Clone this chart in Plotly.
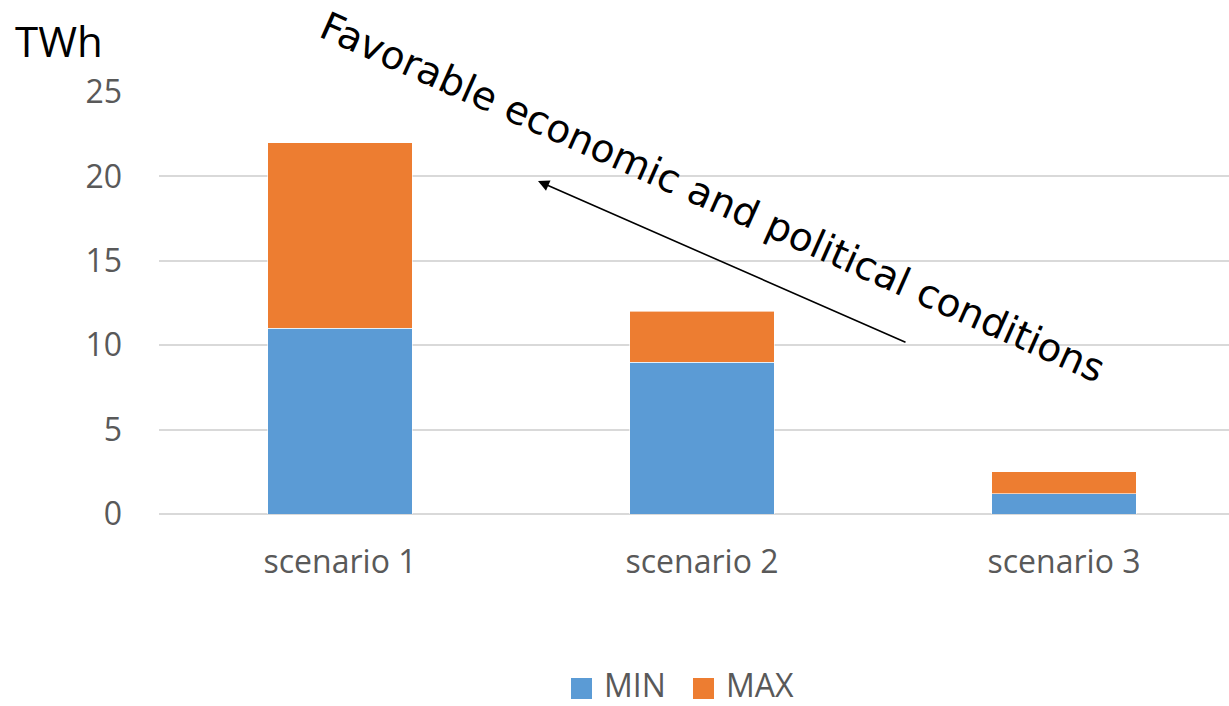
import plotly.graph_objects as go

# Chart data
scenarios = ["scenario 1", "scenario 2", "scenario 3"]
min_twh = [11, 9, 1.2]
max_extra_twh = [11, 3, 1.3]
series_names = ["MIN", "MAX"]
series_colors = ["#5B9BD5", "#ED7D31"]
y_ticks = [0, 5, 10, 15, 20, 25]

W, H = 1229, 706
L, R, T, B = 159, 0, 92, 192
plot_w = W - L - R
plot_h = H - T - B


def px(x):
    return (x - L) / plot_w


def py(y):
    return (H - B - y) / plot_h


fig = go.Figure()
for name, vals, color in zip(series_names, [min_twh, max_extra_twh], series_colors):
    fig.add_trace(go.Bar(
        x=scenarios, y=vals, name=name, width=0.4,
        marker=dict(color=color, line=dict(color="rgba(255,255,255,0.6)", width=1)),
        showlegend=False,
    ))

fig.update_layout(
    barmode="stack",
    width=W, height=H,
    margin=dict(l=L, r=R, t=T, b=B),
    paper_bgcolor="white", plot_bgcolor="white",
    font=dict(family="Open Sans", color="#595959", size=32),
    xaxis=dict(
        range=[-0.5, -0.5 + plot_w / 362.0],
        showgrid=False, showline=False, zeroline=False,
        ticks="", ticklabelstandoff=26,
        tickfont=dict(size=32, color="#595959"),
    ),
    yaxis=dict(
        range=[0, 25], tickvals=y_ticks,
        showgrid=True, gridcolor="#D9D9D9", gridwidth=1.5,
        zeroline=True, zerolinecolor="#D9D9D9", zerolinewidth=1.5,
        showline=False, ticks="", ticklabelstandoff=36,
        tickfont=dict(size=32, color="#595959"),
    ),
)

# Unit label
fig.add_annotation(text="TWh", xref="paper", yref="paper", x=px(59), y=py(41),
                   xanchor="center", yanchor="middle", showarrow=False,
                   font=dict(family="Open Sans", size=42, color="black"))

# Trend arrow and its caption
fig.add_annotation(text="", xref="paper", yref="paper", x=px(538), y=py(181),
                   ax=907 - 538, ay=343 - 181, showarrow=True,
                   arrowhead=2, arrowsize=1.4, arrowwidth=1.6, arrowcolor="black")
fig.add_annotation(text="Favorable economic and political conditions",
                   xref="paper", yref="paper", x=px(713), y=py(197),
                   xanchor="center", yanchor="middle", textangle=24, showarrow=False,
                   font=dict(family="DejaVu Sans", size=39, color="black"))

# Legend: coloured squares with series names
legend_x = [571, 693]
for name, color, lx in zip(series_names, series_colors, legend_x):
    fig.add_shape(type="rect", xref="paper", yref="paper",
                  x0=px(lx), x1=px(lx + 21), y0=py(699), y1=py(678),
                  fillcolor=color, line=dict(width=0))
    fig.add_annotation(text=name, xref="paper", yref="paper", x=px(lx + 31), y=py(684),
                       xanchor="left", yanchor="middle", showarrow=False,
                       font=dict(family="Open Sans", size=32, color="#595959"))

fig.write_html("out.html")
